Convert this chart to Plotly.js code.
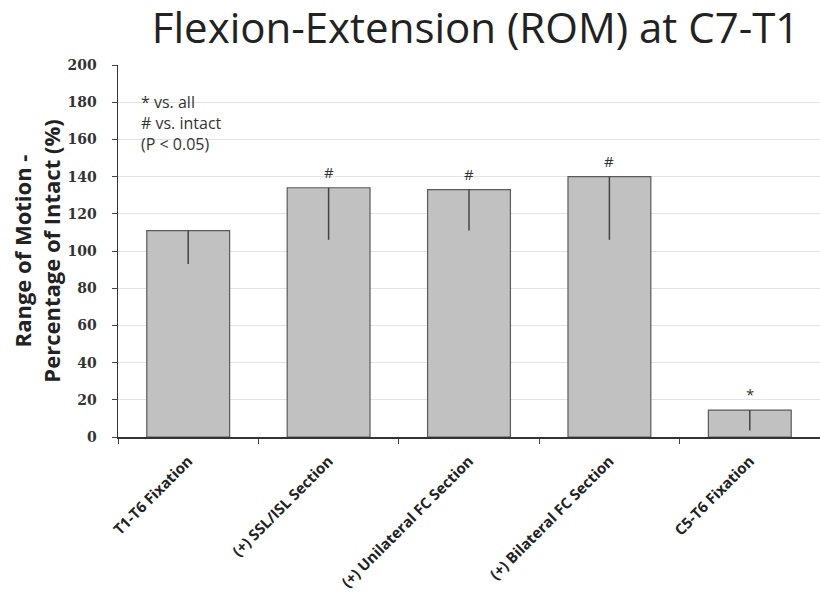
<!DOCTYPE html>
<html>
<head>
<meta charset="utf-8">
<script src="https://cdn.plot.ly/plotly-3.0.1.min.js"></script>
<style>html,body{margin:0;padding:0;background:#fff;}#chart{width:820px;height:598px;}</style>
</head>
<body>
<div id="chart"></div>
<script>
const categories = ["T1-T6 Fixation", "(+) SSL/ISL Section", "(+) Unilateral FC Section", "(+) Bilateral FC Section", "C5-T6 Fixation"];
const meanROM = [111, 134, 133, 140, 14.5];
const errMinus = [18, 28, 22, 34, 11];
const sigMarks = ["", "#", "#", "#", "*"];
const yTicks = [0, 20, 40, 60, 80, 100, 120, 140, 160, 180, 200];

const trace = {
  type: "bar",
  x: categories,
  y: meanROM,
  marker: {color: "#c1c1c1", line: {color: "#5a5a5a", width: 1.2}},
  error_y: {type: "data", symmetric: false, array: meanROM.map(() => 0), arrayminus: errMinus, color: "#444", thickness: 1.5, width: 0},
  hoverinfo: "none"
};

const annotations = categories.map((c, i) => ({
  x: c, y: meanROM[i], xref: "x", yref: "y", text: sigMarks[i], showarrow: false,
  yanchor: "bottom", yshift: 4, font: {family: "Open Sans, sans-serif", size: 15, color: "#333"}
})).filter(a => a.text !== "");

annotations.push({
  xref: "paper", yref: "paper", x: 0.03, y: 0.935, xanchor: "left", yanchor: "top", align: "left",
  showarrow: false,
  text: "* vs. all<br># vs. intact<br>(P &lt; 0.05)",
  font: {family: "Open Sans, sans-serif", size: 16, color: "#333"}
});

const layout = {
  width: 820, height: 598,
  margin: {l: 118, r: 0, t: 65, b: 161},
  paper_bgcolor: "#fff", plot_bgcolor: "#fff",
  bargap: 0.41,
  showlegend: false,
  title: {text: "Flexion-Extension (ROM) at C7-T1", x: 0.58, xanchor: "center", yref: "container", y: 0.978, yanchor: "top",
    font: {family: "Open Sans, sans-serif", size: 42, color: "#222"}},
  xaxis: {
    type: "category", tickangle: -45, tickson: "boundaries", ticks: "outside", ticklen: 5, tickcolor: "#444",
    ticklabelstandoff: 8,
    showline: true, linecolor: "#333", linewidth: 1.5, showgrid: false,
    tickfont: {family: "Open Sans, sans-serif", size: 15, color: "#222", weight: "bold"}
  },
  yaxis: {
    range: [0, 200], tickvals: yTicks, ticks: "outside", ticklen: 5, tickcolor: "#444",
    ticklabelstandoff: 12,
    showline: true, linecolor: "#333", linewidth: 1.5,
    showgrid: true, gridcolor: "#e3e3e3", gridwidth: 1, zeroline: false,
    tickfont: {family: "DejaVu Serif, serif", size: 14, color: "#333", weight: "bold"},
    title: {text: "Range of Motion -<br>Percentage of Intact (%)", standoff: 1,
      font: {family: "Open Sans, sans-serif", size: 22, color: "#222", weight: "bold"}}
  },
  annotations: annotations
};

Plotly.newPlot("chart", [trace], layout, {displayModeBar: false, staticPlot: true});
</script>
</body>
</html>
